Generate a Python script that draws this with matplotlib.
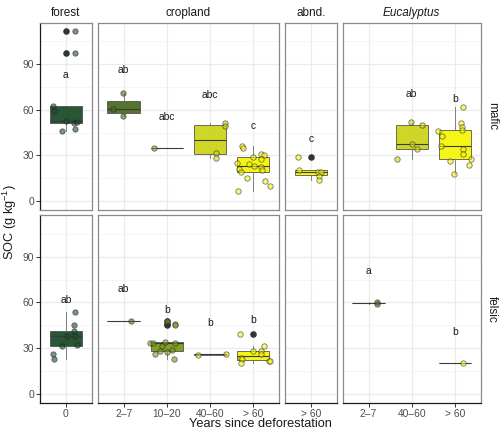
import matplotlib

matplotlib.use("Agg")

import matplotlib.pyplot as plt
from matplotlib.gridspec import GridSpec

plt.rcParams["font.family"] = ["Liberation Sans", "DejaVu Sans"]
plt.rcParams["mathtext.fontset"] = "custom"
plt.rcParams["mathtext.rm"] = "Liberation Sans"

# ---- data ----
columns = ["forest", "cropland", "abnd.", "Eucalyptus"]
rows = ["mafic", "felsic"]
forest_levels = ["0"]
cropland_levels = ["2–7", "10–20", "40–60", "> 60"]
abnd_levels = ["> 60"]
euc_levels = ["2–7", "40–60", "> 60"]

# mafic soils
maf_forest_0 = [111.5, 97.4, 62.8, 58.9, 52.7, 51.4, 51.8, 46.3, 47.4]
maf_forest_0_jit = [0.20, 0.20, -0.30, -0.27, 0.01, 0.18, 0.26, -0.09, 0.20]
maf_crop_2_7 = [70.7, 60.4, 55.8]
maf_crop_2_7_jit = [-0.02, -0.25, -0.02]
maf_crop_10_20 = [35.1]
maf_crop_10_20_jit = [-0.30]
maf_crop_40_60 = [51.4, 49.2, 31.6, 28.6]
maf_crop_40_60_jit = [0.36, 0.35, 0.14, 0.15]
maf_crop_60 = [36.0, 35.1, 29.0, 31.2, 30.5, 27.6, 25.3, 24.2, 23.3, 22.4,
               21.3, 20.2, 19.0, 15.1, 13.4, 9.7, 6.4]
maf_crop_60_jit = [-0.26, -0.24, -0.01, 0.18, 0.26, 0.18, -0.38, -0.09, 0.02,
                   0.18, -0.32, 0.21, -0.27, -0.14, 0.28, 0.39, -0.34]
maf_abnd_60 = [28.8, 20.7, 19.4, 19.4, 16.5, 13.6]
maf_abnd_60_jit = [-0.30, -0.27, 0.17, 0.23, 0.20, 0.18]
maf_euc_40_60 = [51.8, 50.3, 37.8, 34.2, 27.9]
maf_euc_40_60_jit = [-0.02, 0.24, 0.00, 0.13, -0.33]
maf_euc_60 = [61.9, 51.0, 48.7, 46.9, 45.9, 42.8, 36.5, 34.2, 31.2, 27.9,
              26.6, 23.7, 18.0]
maf_euc_60_jit = [0.20, 0.14, 0.17, 0.17, -0.40, -0.29, -0.31, 0.20, 0.18,
                  0.38, -0.11, 0.34, -0.03]

# felsic soils
fel_forest_0 = [53.7, 44.9, 41.3, 38.1, 37.8, 31.3, 32.3, 26.1, 22.8]
fel_forest_0_jit = [0.20, 0.19, 0.18, 0.02, 0.20, -0.09, 0.26, -0.30, -0.27]
fel_crop_2_7 = [48.1]
fel_crop_2_7_jit = [0.18]
fel_crop_10_20 = [47.8, 45.9, 45.0, 34.2, 33.6, 33.4, 33.0, 31.4, 28.8, 27.9,
                  27.3, 25.9, 23.1]
fel_crop_10_20_jit = [0.00, 0.20, 0.18, -0.03, -0.39, 0.19, -0.32, -0.11,
                      0.13, -0.16, 0.00, -0.27, 0.16]
fel_crop_40_60 = [25.5, 26.1]
fel_crop_40_60_jit = [-0.27, 0.37]
fel_crop_60 = [39.4, 31.3, 27.9, 27.9, 26.1, 23.6, 23.0, 21.7, 21.2, 20.3]
fel_crop_60_jit = [-0.30, 0.26, -0.01, 0.18, 0.18, -0.28, -0.25, 0.36, 0.40,
                   -0.28]
fel_euc_2_7 = [60.1, 59.2]
fel_euc_2_7_jit = [0.19, 0.19]
fel_euc_60 = [20.0]
fel_euc_60_jit = [0.18]

# significance letters and their heights
maf_letters = ["a", "ab", "abc", "abc", "c", "c", "ab", "b"]
maf_letter_y = [82.7, 85.8, 55.5, 70.0, 49.2, 40.6, 70.4, 67.2]
fel_letters = ["ab", "ab", "b", "b", "b", "a", "b"]
fel_letter_y = [61.5, 68.5, 55.1, 46.3, 48.3, 80.3, 40.6]

level_colors = {"0": "#1d4d2a", "2–7": "#4b6e22", "10–20": "#7a9a1c",
                "40–60": "#cdd41c", "> 60": "#f5f50a"}

col_levels = [forest_levels, cropland_levels, abnd_levels, euc_levels]

# (row, column, level, values, jitter)
groups = [
    (0, 0, "0", maf_forest_0, maf_forest_0_jit),
    (0, 1, "2–7", maf_crop_2_7, maf_crop_2_7_jit),
    (0, 1, "10–20", maf_crop_10_20, maf_crop_10_20_jit),
    (0, 1, "40–60", maf_crop_40_60, maf_crop_40_60_jit),
    (0, 1, "> 60", maf_crop_60, maf_crop_60_jit),
    (0, 2, "> 60", maf_abnd_60, maf_abnd_60_jit),
    (0, 3, "40–60", maf_euc_40_60, maf_euc_40_60_jit),
    (0, 3, "> 60", maf_euc_60, maf_euc_60_jit),
    (1, 0, "0", fel_forest_0, fel_forest_0_jit),
    (1, 1, "2–7", fel_crop_2_7, fel_crop_2_7_jit),
    (1, 1, "10–20", fel_crop_10_20, fel_crop_10_20_jit),
    (1, 1, "40–60", fel_crop_40_60, fel_crop_40_60_jit),
    (1, 1, "> 60", fel_crop_60, fel_crop_60_jit),
    (1, 3, "2–7", fel_euc_2_7, fel_euc_2_7_jit),
    (1, 3, "> 60", fel_euc_60, fel_euc_60_jit),
]
letters = {0: list(zip(maf_letters, maf_letter_y)),
           1: list(zip(fel_letters, fel_letter_y))}

# ---- figure ----
fig = plt.figure(figsize=(5.0, 4.34), dpi=100)
gs = GridSpec(2, 4, figure=fig, width_ratios=[len(l) + 0.2 for l in col_levels],
              left=0.08, right=0.9614, top=0.9477, bottom=0.0721,
              wspace=0.057, hspace=0.028)
axes = [[fig.add_subplot(gs[r, c]) for c in range(4)] for r in range(2)]

line_c = "#4d4d4d"
for r in range(2):
    for c in range(4):
        ax = axes[r][c]
        n = len(col_levels[c])
        ax.set_xlim(-0.6, n - 1 + 0.6)
        ax.set_ylim(-5.9, 117.2)
        ax.set_yticks([0, 30, 60, 90])
        ax.set_yticks([15, 45, 75, 105], minor=True)
        ax.set_xticks(range(n))
        ax.grid(True, which="major", color="#ebebeb", lw=0.9, zorder=0)
        ax.grid(True, which="minor", axis="y", color="#f4f4f4", lw=0.6, zorder=0)
        ax.set_axisbelow(True)
        for s in ax.spines.values():
            s.set_color("#8a8a8a")
            s.set_linewidth(0.9)
        ax.tick_params(which="minor", length=0)
        ax.tick_params(axis="both", colors="#333333", labelcolor="#4d4d4d",
                       labelsize=7.4, length=2.8, width=0.7, pad=1.5)
        if c == 0:
            ax.spines["left"].set_color("#1a1a1a")
        else:
            ax.tick_params(axis="y", length=0, labelleft=False)
        if r == 1:
            ax.spines["bottom"].set_color("#1a1a1a")
            ax.set_xticklabels(col_levels[c])
        else:
            ax.tick_params(axis="x", length=0, labelbottom=False)
        if r == 0:
            style = "italic" if columns[c] == "Eucalyptus" else "normal"
            ax.set_title(columns[c], fontsize=8.5, color="#1a1a1a", pad=4.5,
                         style=style)
        if c == 3:
            ax.text(1.04, 0.5, rows[r], transform=ax.transAxes, rotation=-90,
                    ha="left", va="center", fontsize=8.5, color="#1a1a1a")

letter_count = {0: 0, 1: 0}
for r, c, lev, vals, jit in groups:
    ax = axes[r][c]
    pos = col_levels[c].index(lev)
    col = level_colors[lev]
    ax.boxplot([vals], positions=[pos], widths=0.75, patch_artist=True,
               whis=1.5, showcaps=False, manage_ticks=False,
               boxprops=dict(facecolor=col, edgecolor=line_c, linewidth=0.6, alpha=0.95),
               medianprops=dict(color="#3a3a3a", linewidth=0.8),
               whiskerprops=dict(color="#6e6e6e", linewidth=0.6),
               flierprops=dict(marker="o", markerfacecolor="#333333",
                               markeredgecolor="#333333", markersize=3.7),
               zorder=2)
    ax.scatter([pos + j for j in jit], vals, s=15, facecolor=col,
               edgecolor="#222222", linewidths=0.6, alpha=0.6, zorder=3)
    lab, ly = letters[r][letter_count[r]]
    letter_count[r] += 1
    ax.text(pos, ly, lab, ha="center", va="center", fontsize=7.4,
            color="#1a1a1a", zorder=4)

fig.text(0.02, 0.488, "SOC (g kg$^{-1}$)", rotation=90, ha="center",
         va="center", fontsize=9.2, color="#1a1a1a")
fig.text(0.5206, 0.022, "Years since deforestation", ha="center",
         va="center", fontsize=9.2, color="#1a1a1a")

fig.savefig("out.png", dpi=100)
